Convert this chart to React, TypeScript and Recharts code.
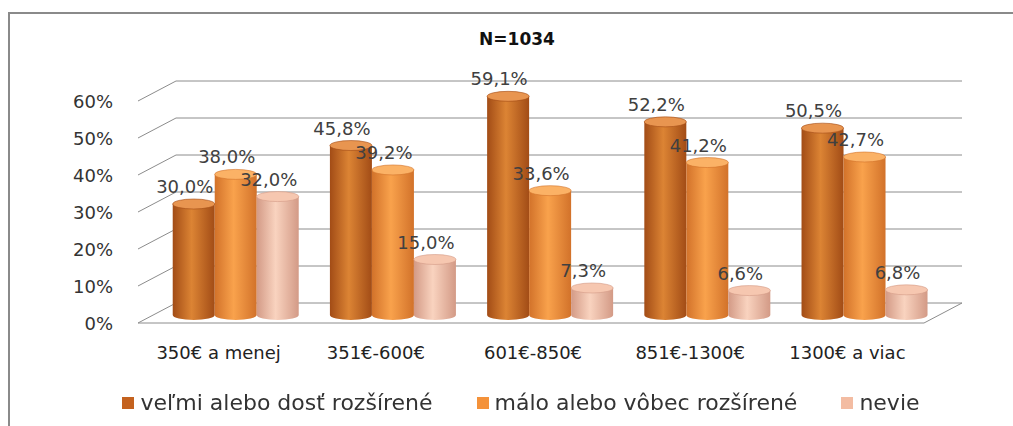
import { BarChart, Bar, XAxis, YAxis, CartesianGrid, LabelList } from 'recharts'

const categories = ['350€ a menej', '351€-600€', '601€-850€', '851€-1300€', '1300€ a viac']
const velmiDost = [30.0, 45.8, 59.1, 52.2, 50.5]
const maloVobec = [38.0, 39.2, 33.6, 41.2, 42.7]
const nevie = [32.0, 15.0, 7.3, 6.6, 6.8]
const yTicks = [0, 10, 20, 30, 40, 50, 60]

const seriesNames = ['veľmi alebo dosť rozšírené', 'málo alebo vôbec rozšírené', 'nevie']

const data = categories.map((name, i) => ({
  name,
  velmi: velmiDost[i],
  malo: maloVobec[i],
  nevie: nevie[i],
}))

const W = 1013
const H = 426
const PLOT_LEFT = 157
const Y_AXIS_W = 60
const X_AXIS_H = 20
const MARGIN = { top: 93, right: 70, bottom: 111 - X_AXIS_H, left: PLOT_LEFT - Y_AXIS_W }
const PLOT_BOTTOM = H - 111
// 3D depth offsets: back wall and front edge relative to the bar plane
const BACK = { dx: 19, dy: -12 }
const FRONT = { dx: -19, dy: 8 }
const FONT = '"DejaVu Sans", sans-serif'
const GRID = '#8c8c8c'

const palette = [
  { id: 'g1', edge: '#a24c16', mid: '#dc8434', top: '#e89550', legend: '#c4621f' },
  { id: 'g2', edge: '#d2722a', mid: '#f9a24c', top: '#fbb266', legend: '#f4923a' },
  { id: 'g3', edge: '#d39a86', mid: '#f9d3bf', top: '#f6c7b0', legend: '#f3bca2' },
]

const pct = (v: number) => v.toFixed(1).replace('.', ',') + '%'

function Cylinder(props: any) {
  const { x, y, width, height, gid } = props
  if (height == null || height <= 0) return null
  const rx = width / 2
  const ry = 5
  const cx = x + rx
  const p = palette.find((c) => c.id === gid)!
  return (
    <g>
      <path
        d={`M${x},${y} L${x},${y + height} A${rx},${ry} 0 0 0 ${x + width},${y + height} L${x + width},${y} Z`}
        fill={`url(#${gid})`}
      />
      <ellipse cx={cx} cy={y} rx={rx} ry={ry} fill={p.top} stroke={p.edge} strokeWidth={0.6} />
    </g>
  )
}

function gridLine(props: any) {
  const { x1, x2, y1 } = props
  const y = y1
  const isFloor = Math.abs(y - PLOT_BOTTOM) < 1
  return (
    <g key={`h-${y}`}>
      <line x1={x1 + BACK.dx} y1={y + BACK.dy} x2={x2 + BACK.dx} y2={y + BACK.dy} stroke={GRID} strokeWidth={1} />
      <line x1={x1 + FRONT.dx} y1={y + FRONT.dy} x2={x1 + BACK.dx} y2={y + BACK.dy} stroke={GRID} strokeWidth={1} />
      {isFloor && (
        <>
          <line x1={x1 + FRONT.dx} y1={y + FRONT.dy} x2={x2 + FRONT.dx} y2={y + FRONT.dy} stroke={GRID} strokeWidth={1} />
          <line x1={x2 + FRONT.dx} y1={y + FRONT.dy} x2={x2 + BACK.dx} y2={y + BACK.dy} stroke={GRID} strokeWidth={1} />
        </>
      )}
    </g>
  )
}

function YTick({ y, payload }: any) {
  return (
    <text x={PLOT_LEFT + FRONT.dx - 25} y={y + FRONT.dy + 7} textAnchor="end" fontSize={18} fill="#333" fontFamily={FONT}>
      {payload.value}%
    </text>
  )
}

function XTick({ x, payload }: any) {
  return (
    <text x={x - 17} y={PLOT_BOTTOM + 44} textAnchor="middle" fontSize={18} fill="#222" fontFamily={FONT}>
      {payload.value}
    </text>
  )
}

function ValueLabel({ x, y, width, value }: any) {
  return (
    <text x={x + width / 2 - 9} y={y - 11} textAnchor="middle" fontSize={18} fill="#404040" fontFamily={FONT}>
      {pct(value)}
    </text>
  )
}

export default function App() {
  return (
    <div style={{ position: 'fixed', left: 0, top: 0, width: W, height: H, background: '#fff' }}>
      <div style={{ position: 'absolute', left: 8, top: 12, right: -4, bottom: -4, borderTop: '2px solid #8a8a8a', borderLeft: '2px solid #8a8a8a' }} />
      <div style={{ position: 'absolute', left: 0, top: 29, width: 1034, textAlign: 'center', fontFamily: FONT, fontWeight: 'bold', fontSize: 17, color: '#111' }}>
        N=1034
      </div>
      <BarChart width={W} height={H} data={data} margin={MARGIN} barCategoryGap="10%" barGap={0} style={{ position: 'absolute', left: 0, top: 0 }}>
        <defs>
          {palette.map((p) => (
            <linearGradient key={p.id} id={p.id} x1="0" y1="0" x2="1" y2="0">
              <stop offset="0%" stopColor={p.edge} />
              <stop offset="45%" stopColor={p.mid} />
              <stop offset="100%" stopColor={p.edge} />
            </linearGradient>
          ))}
        </defs>
        <CartesianGrid vertical={false} horizontal={gridLine} />
        <XAxis dataKey="name" axisLine={false} tickLine={false} tick={<XTick />} interval={0} height={X_AXIS_H} />
        <YAxis domain={[0, 60]} ticks={yTicks} axisLine={false} tickLine={false} width={Y_AXIS_W} tick={<YTick />} />
        <Bar dataKey="velmi" name={seriesNames[0]} isAnimationActive={false} shape={(p: any) => <Cylinder {...p} gid="g1" />}>
          <LabelList dataKey="velmi" content={<ValueLabel />} />
        </Bar>
        <Bar dataKey="malo" name={seriesNames[1]} isAnimationActive={false} shape={(p: any) => <Cylinder {...p} gid="g2" />}>
          <LabelList dataKey="malo" content={<ValueLabel />} />
        </Bar>
        <Bar dataKey="nevie" name={seriesNames[2]} isAnimationActive={false} shape={(p: any) => <Cylinder {...p} gid="g3" />}>
          <LabelList dataKey="nevie" content={<ValueLabel />} />
        </Bar>
      </BarChart>
      <div style={{ position: 'absolute', left: 0, top: 390, width: 1042, display: 'flex', justifyContent: 'center', gap: 44, fontFamily: FONT, fontSize: 22, color: '#333' }}>
        {seriesNames.map((n, i) => (
          <div key={n} style={{ display: 'flex', alignItems: 'center', gap: 6 }}>
            <span style={{ width: 12, height: 12, background: palette[i].legend, display: 'inline-block' }} />
            <span>{n}</span>
          </div>
        ))}
      </div>
    </div>
  )
}
